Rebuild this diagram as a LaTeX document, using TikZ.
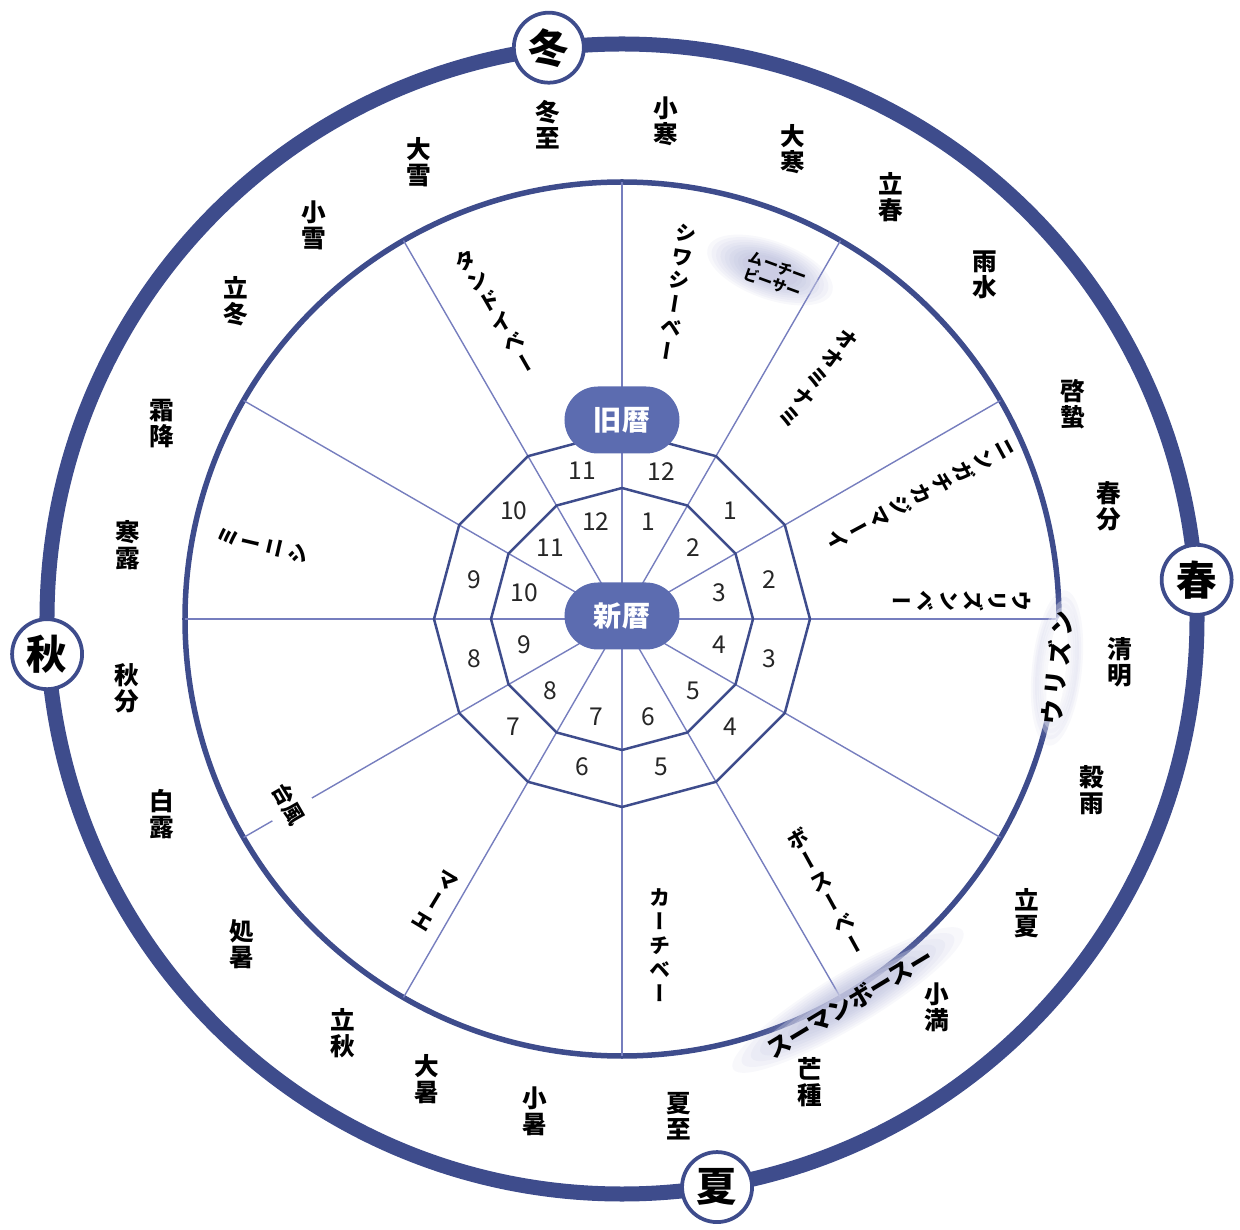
\documentclass[tikz,border=0pt]{standalone}
\usepackage{fontspec}
\setmainfont{Noto Sans CJK JP}
\newfontfamily\vertjp[RawFeature=+vert]{Noto Sans CJK JP}

\definecolor{ringblue}{RGB}{62,76,140}
\definecolor{spokeblue}{RGB}{118,126,190}
\definecolor{pillblue}{RGB}{92,108,176}
\definecolor{hazeblue}{RGB}{160,164,208}

\begin{document}
\begin{tikzpicture}[
  x=0.2mm, y=0.2mm,
  ring/.style={draw=ringblue, line width=3mm},
  rim/.style={draw=ringblue, line width=1.1mm},
  spoke/.style={draw=spokeblue, line width=0.28mm},
  dodec/.style={draw=ringblue, line width=0.5mm, line join=round},
  pill/.style={fill=pillblue, text=white, rounded corners=6.7mm, minimum width=23mm, minimum height=13.4mm, inner sep=0pt, font=\fontsize{16}{16}\selectfont\bfseries},
  season/.style={circle, draw=ringblue, line width=0.75mm, fill=white, minimum size=14mm, inner sep=0pt, font=\fontsize{23}{23}\selectfont\bfseries},
  term/.style={align=center, inner sep=0pt, font=\vertjp\fontsize{14}{14.8}\selectfont\bfseries},
  wind/.style={align=center, inner sep=0pt, font=\vertjp\fontsize{12}{13.6}\selectfont\bfseries},
  num/.style={inner sep=0pt, text=black!85, font=\fontsize{14}{14}\selectfont},
  haze/.style={fill=hazeblue, opacity=0.08},
  mist/.style={fill=white, opacity=0.3}
]
\useasboundingbox (-622,-611) rectangle (618,619);

% rings and spokes
\draw[ring] (0,0) circle (575);
\draw[rim] (0,0) circle (437);
\foreach \a in {0,30,...,330}
  \draw[spoke] (0,0) -- (\a:437);

% month rings
\draw[dodec] (0:188) \foreach \a in {30,60,...,330} {-- (\a:188)} -- cycle;
\draw[dodec] (0:131) \foreach \a in {30,60,...,330} {-- (\a:131)} -- cycle;
\foreach \m in {1,...,12} {
  \node[num] (old\m) at ({75-30*\m}:153) {\m};
  \node[num] (new\m) at ({105-30*\m}:101) {\m};
}
\node[pill] (shin) at (0,3) {新暦};
\node[pill] (kyu) at (0,199) {旧暦};

% seasons
\node[season] (fuyu) at (97.3:576) {冬};
\node[season] (haru) at (3.9:576) {春};
\node[season] (natsu) at (-80.5:576) {夏};
\node[season] (aki) at (183.5:576) {秋};

% 24 solar terms
\foreach \a/\u/\l [count=\i] in {98.5/冬/至, 85/小/寒, 70/大/寒, 57.5/立/春, 43.5/雨/水, 25.5/啓/蟄,
    13/春/分, -5/清/明, -20/穀/雨, -36/立/夏, -51/小/満, -68/芒/種,
    -83.5/夏/至, -100/小/暑, -113/大/暑, -124/立/秋, -139.5/処/暑, -157/白/露,
    -172/秋/分, 171.5/寒/露, 157/霜/降, 140.5/立/冬, 128/小/雪, 114/大/雪}
  \node[term] (term\i) at (\a:500) {\u\\\l};

% hazes
\begin{scope}[shift={(148,349)}, rotate=-20]
  \foreach \s in {1,0.8,0.6}
    \fill[mist] (0,0) ellipse ({52*\s} and {18*\s});
  \foreach \s in {1,0.93,0.86,0.79,0.72,0.65,0.58,0.51,0.44}
    \fill[haze] (0,0) ellipse ({66*\s} and {29*\s});
\end{scope}
\begin{scope}[shift={(226,-381)}, rotate=31]
  \foreach \s in {1,0.85,0.7,0.55}
    \fill[mist] (0,0) ellipse ({112*\s} and {16*\s});
  \foreach \s in {1,0.92,0.84,0.76,0.68,0.6,0.52,0.44}
    \fill[haze] (0,0) ellipse ({134*\s} and {27*\s});
\end{scope}
\begin{scope}[shift={(435,-49)}, rotate=84]
  \foreach \s in {1,0.92,0.84,0.76,0.68}
    \fill[haze] (0,0) ellipse ({78*\s} and {25*\s});
  \foreach \s in {1,0.9,0.8,0.7,0.6}
    \fill[mist] (0,0) ellipse ({68*\s} and {19*\s});
  \fill[white] (0,0) ellipse (54 and 9);
\end{scope}

% winds
\node[wind, rotate=-9] (shiwashi) at (55,327) {シ\\ワ\\シ\\ー\\ベ\\ー};
\node[wind, rotate=30] (tandoi) at (-127,308) {タ\\ン\\ド\\イ\\ベ\\ー};
\node[wind, rotate=-37] (oominami) at (196,241) {オ\\オ\\ミ\\ナ\\ミ};
\node[wind, rotate=-61.5] (ningachi) at (298,124) {ニ\\ン\\ガ\\チ\\カ\\ジ\\マ\\ー\\イ};
\node[wind, rotate=-90] (urizunbe) at (340,18) {ウ\\リ\\ズ\\ン\\ベ\\ー};
\node[wind, rotate=77] (miinishi) at (-359,74) {ミ\\ー\\ニ\\シ};
\node[wind, rotate=29] (bosu) at (204,-272) {ボ\\ー\\ス\\ー\\ベ\\ー};
\node[wind] (kachi) at (38,-326) {カ\\ー\\チ\\ベ\\ー};
\node[wind, rotate=-31] (mae) at (-187,-282) {マ\\ー\\エ};
\node[wind, rotate=-60, fill=white, inner xsep=1pt, inner ysep=2.5mm, font=\fontsize{12}{12}\selectfont\bfseries] (taifu) at (-333,-185) {台風};
\node[rotate=-20, align=center, inner sep=0pt, font=\fontsize{8.5}{9.8}\selectfont\bfseries] (muuchi) at (153,344) {ムーチー\\ビーサー};
\node[rotate=31, inner sep=0pt, font=\fontsize{13.5}{13.5}\selectfont\bfseries] (suuman) at (228,-384) {スーマンボースー};
\node[rotate=84, inner sep=0pt, font=\fontsize{14}{14}\selectfont\bfseries] (urizun) at (435,-49) {ウ\kern3ptリ\kern3ptズ\kern3ptン};

\end{tikzpicture}
\end{document}
